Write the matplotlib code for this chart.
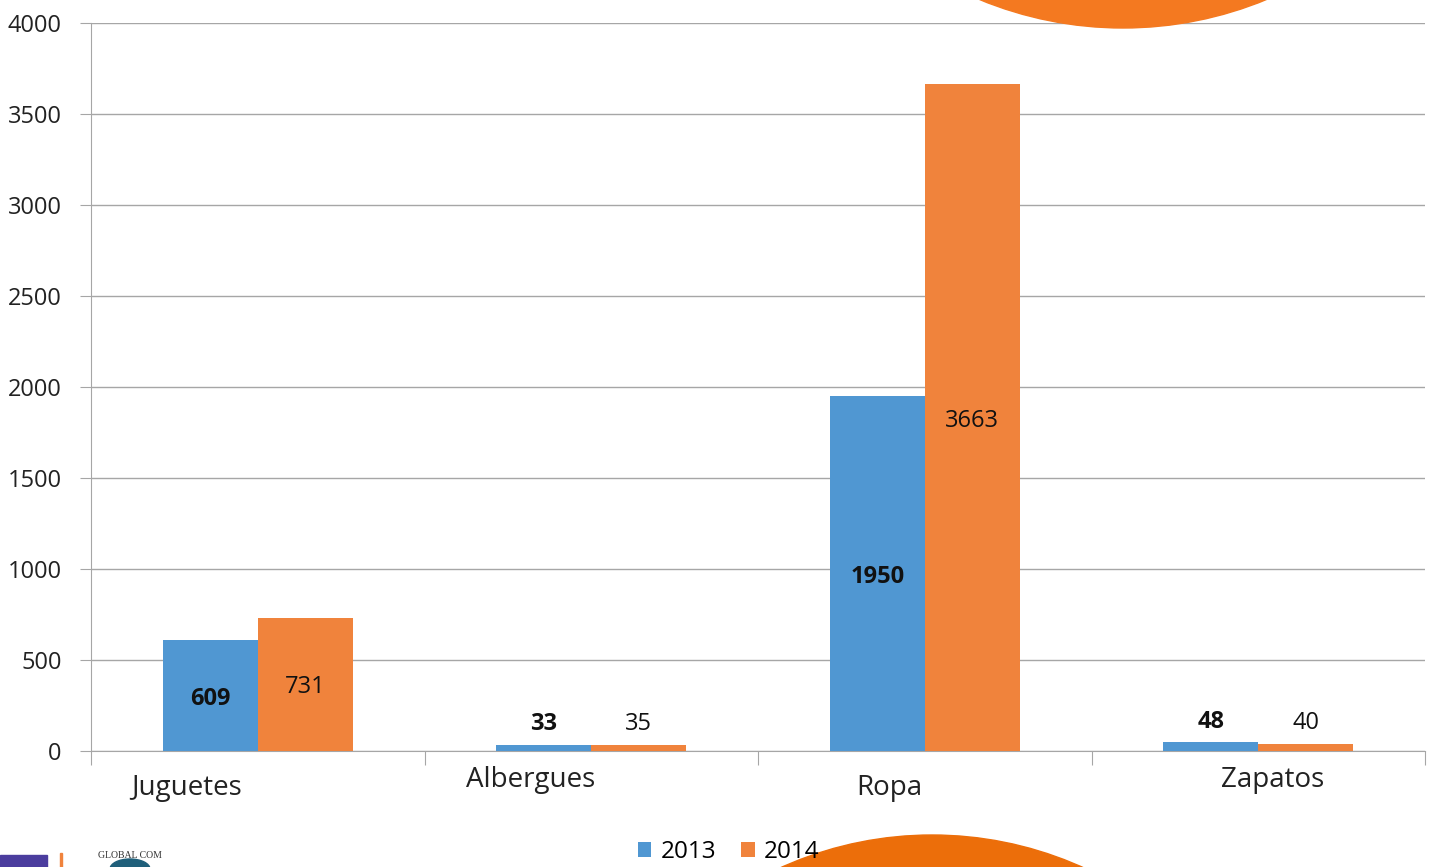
import numpy as np
import matplotlib
matplotlib.use('Agg')
import matplotlib.pyplot as plt
from matplotlib.patches import Ellipse, Rectangle

plt.rcParams['font.family'] = ['Open Sans', 'DejaVu Sans']

categorias = ['Juguetes', 'Albergues', 'Ropa', 'Zapatos']
anios = ['2013', '2014']
valores_2013 = [609, 33, 1950, 48]
valores_2014 = [731, 35, 3663, 40]
yticks = [0, 500, 1000, 1500, 2000, 2500, 3000, 3500, 4000]

azul = '#5097D2'
naranja = '#F0833C'
gris = '#A6A6A6'

fig = plt.figure(figsize=(14.33, 8.67), dpi=100)
ax = fig.add_axes([91 / 1433, 116 / 867, 1334 / 1433, 728 / 867])

x = np.arange(len(categorias))
ancho = 0.285
ax.bar(x - ancho / 2, valores_2013, ancho, color=azul, zorder=3, label=anios[0])
ax.bar(x + ancho / 2, valores_2014, ancho, color=naranja, zorder=3, label=anios[1])

# etiquetas de valores: dentro de la barra si es alta, encima si es baja
for i in range(len(categorias)):
    for v, dx, peso in [(valores_2013[i], -ancho / 2, 'bold'), (valores_2014[i], ancho / 2, 'normal')]:
        yy = v / 2 if v > 300 else v + 130
        ax.annotate(str(v), xy=(x[i] + dx, yy), xytext=(0, -3), textcoords='offset pixels',
                    ha='center', va='center', fontsize=17, fontweight=peso,
                    color='#111111', zorder=4)

ax.set_xlim(-0.5, len(categorias) - 0.5)
ax.set_ylim(0, 4000)
ax.set_yticks(yticks)
ax.tick_params(axis='y', labelsize=17, length=8, color=gris, pad=13, labelcolor='#222222')
ax.set_xticks(np.arange(len(categorias) + 1) - 0.5)
ax.set_xticklabels([])
ax.tick_params(axis='x', length=10, color=gris)
ax.grid(axis='y', color=gris, linewidth=1, zorder=0)
ax.set_axisbelow(True)
for s in ['top', 'right']:
    ax.spines[s].set_visible(False)
for s in ['left', 'bottom']:
    ax.spines[s].set_color(gris)

# nombres de categorias (posiciones algo irregulares como en el original)
desp = [(-0.212, -37), (-0.183, -29), (-0.106, -37), (0.042, -29)]
for i, c in enumerate(categorias):
    ax.annotate(c, xy=(x[i] + desp[i][0], 0), xycoords=('data', 'data'),
                xytext=(0, desp[i][1]), textcoords='offset pixels',
                ha='center', va='center', fontsize=20, color='#222222')

# circulos decorativos
fig.patches.append(Ellipse((1123 / 1433, (867 + 348) / 867), 2 * 376 / 1433, 2 * 376 / 867,
                           transform=fig.transFigure, color='#F47920', zorder=5))
fig.patches.append(Ellipse((932 / 1433, (867 - 1202) / 867), 2 * 367 / 1433, 2 * 367 / 867,
                           transform=fig.transFigure, color='#EC6E0A', zorder=5))

# logos (aprox.)
fig.patches.append(Rectangle((0, 0), 47 / 1433, 12 / 867, transform=fig.transFigure,
                             color='#4B3D9E', zorder=5))
fig.patches.append(Rectangle((60 / 1433, 0), 2 / 1433, 14 / 867, transform=fig.transFigure,
                             color='#F0833C', zorder=5))
fig.patches.append(Ellipse((130 / 1433, -2 / 867), 40 / 1433, 20 / 867, transform=fig.transFigure,
                           color='#1F5F7A', zorder=5))
fig.text(130 / 1433, 11 / 867, 'GLOBAL COM', fontsize=7, ha='center', va='center',
         color='#333333', family='Liberation Serif')

leg = fig.legend(loc='center', bbox_to_anchor=(729 / 1433, 15 / 867), ncol=2, frameon=False,
                 fontsize=17.5, handlelength=0.55, handleheight=0.55, handletextpad=0.4,
                 columnspacing=1.0)
leg.set_zorder(10)

fig.savefig('out.png', dpi=100)
